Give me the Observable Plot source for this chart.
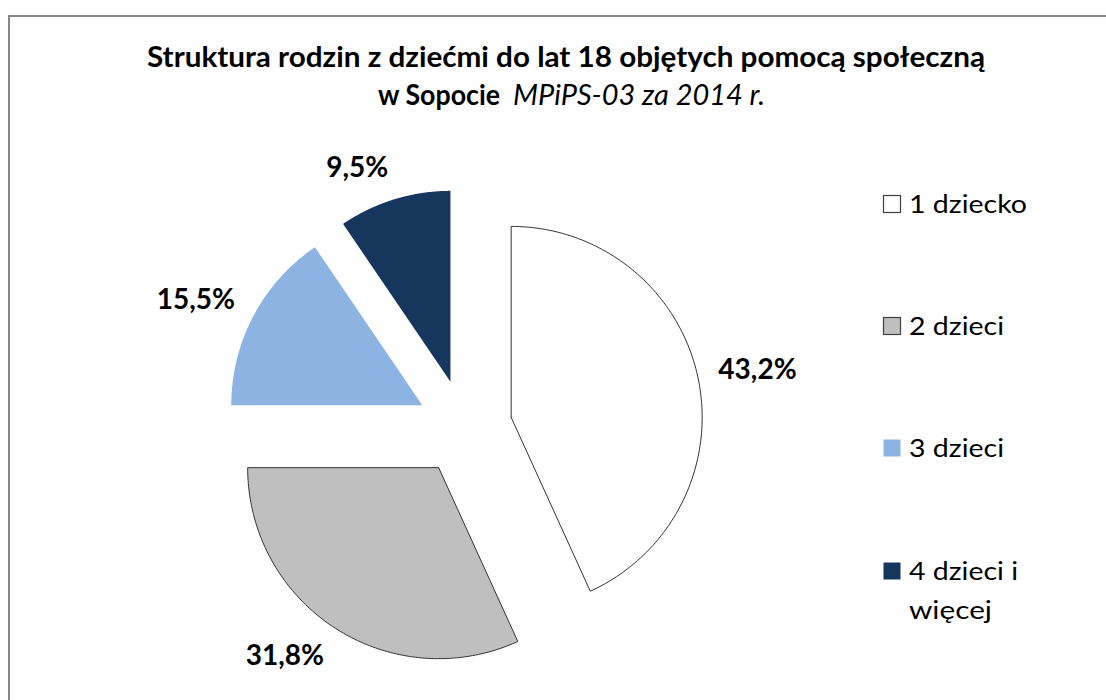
<!DOCTYPE html>
<html><head><meta charset="utf-8">
<script src="https://cdn.jsdelivr.net/npm/d3@7"></script>
<script src="https://cdn.jsdelivr.net/npm/@observablehq/plot@0.6"></script>
<style>
html,body{margin:0;padding:0;background:#fff;}
#wrap{position:relative;width:1106px;height:700px;overflow:hidden;background:#fff;font-family:Lato,"Open Sans",sans-serif;}
#frame{position:absolute;left:8px;top:15px;width:1200px;height:800px;border:2px solid #858585;box-sizing:border-box;}
#pie{position:absolute;left:0;top:0;}
#overlay{position:absolute;left:0;top:0;}
</style></head>
<body><div id="wrap"><div id="frame"></div><div id="pie"></div><svg id="overlay" width="1106" height="700"></svg></div>
<script>
// ---- data ----
const categories = ["1 dziecko", "2 dzieci", "3 dzieci", "4 dzieci i więcej"];
const values = [43.2, 31.8, 15.5, 9.5];
const valueLabels = ["43,2%", "31,8%", "15,5%", "9,5%"];
const legendLines = [["1 dziecko"], ["2 dzieci"], ["3 dzieci"], ["4 dzieci i", "więcej"]];
const colors = ["#ffffff", "#bfbfbf", "#8db3e2", "#17365d"];
const outlined = [true, true, false, false];
const titleLine1 = "Struktura rodzin z dziećmi do lat 18 objętych pomocą społeczną";
const titleLine2Bold = "w Sopocie";
const titleLine2Italic = "MPiPS-03 za 2014 r.";

// ---- pie geometry (data units, radius = 1) ----
const W = 860, H = 700, cx = 464, cy = 427, R = 191;
const explode = 0.25, labelR = 1.36, labelShift = 12 / R;
const arcs = d3.pie().sort(null).value(d => d)(values);

const slices = arcs.map((a, i) => {
  const m = (a.startAngle + a.endAngle) / 2;
  const ox = explode * Math.sin(m), oy = explode * Math.cos(m);
  const pts = [{x: ox, y: oy}];
  const n = 120;
  for (let k = 0; k <= n; k++) {
    const t = a.startAngle + (a.endAngle - a.startAngle) * k / n;
    pts.push({x: ox + Math.sin(t), y: oy + Math.cos(t)});
  }
  pts.push({x: ox, y: oy});
  return {i, pts};
});

const labelData = arcs.map((a, i) => {
  const m = (a.startAngle + a.endAngle) / 2;
  return {
    label: valueLabels[i],
    x: labelR * Math.sin(m),
    y: labelR * Math.cos(m) + Math.cos(m) * labelShift,
    right: Math.sin(m) > 0
  };
});

const textStyle = {fontSize: 28, fontWeight: "bold", fontFamily: "Lato", fill: "#000"};

const chart = Plot.plot({
  width: W, height: H, margin: 0,
  x: {domain: [-cx / R, (W - cx) / R], axis: null},
  y: {domain: [-(H - cy) / R, cy / R], axis: null},
  style: {background: "transparent", overflow: "visible"},
  marks: [
    ...slices.map(s => Plot.line(s.pts, {
      x: "x", y: "y", curve: "linear",
      fill: colors[s.i],
      stroke: outlined[s.i] ? "#333333" : "none",
      strokeWidth: 1
    })),
    Plot.text(labelData.filter(d => d.right), {x: "x", y: "y", text: "label", textAnchor: "start", ...textStyle}),
    Plot.text(labelData.filter(d => !d.right), {x: "x", y: "y", text: "label", textAnchor: "end", ...textStyle})
  ]
});
document.getElementById("pie").appendChild(chart);

// ---- title and legend ----
const svg = d3.select("#overlay");
function txt(str, x, y, size, weight, style, len, anchor) {
  const t = svg.append("text").attr("x", x).attr("y", y)
    .attr("font-family", "Lato").attr("font-size", size)
    .attr("font-weight", weight).attr("font-style", style)
    .attr("fill", "#000").attr("text-anchor", anchor || "start").text(str);
  if (len) t.attr("textLength", len).attr("lengthAdjust", "spacingAndGlyphs");
  return t;
}
txt(titleLine1, 566, 67, 29, "bold", "normal", 838, "middle");
txt(titleLine2Bold, 378, 105, 29, "bold", "normal", 122);
txt(titleLine2Italic, 513, 105, 29, "normal", "italic", 252);

const legendTop = [195, 317, 439, 562];
const legendWidths = [[118], [95], [95], [109, 83]];
categories.forEach((c, i) => {
  svg.append("rect").attr("x", 883.5).attr("y", legendTop[i] + 0.5).attr("width", 17).attr("height", 17)
    .attr("fill", colors[i]).attr("stroke", outlined[i] ? "#404040" : "none").attr("stroke-width", 1.2);
  legendLines[i].forEach((line, j) => {
    txt(line, 909, legendTop[i] + 18 + j * 39, 25, "normal", "normal", legendWidths[i][j]);
  });
});
</script>
</body></html>
